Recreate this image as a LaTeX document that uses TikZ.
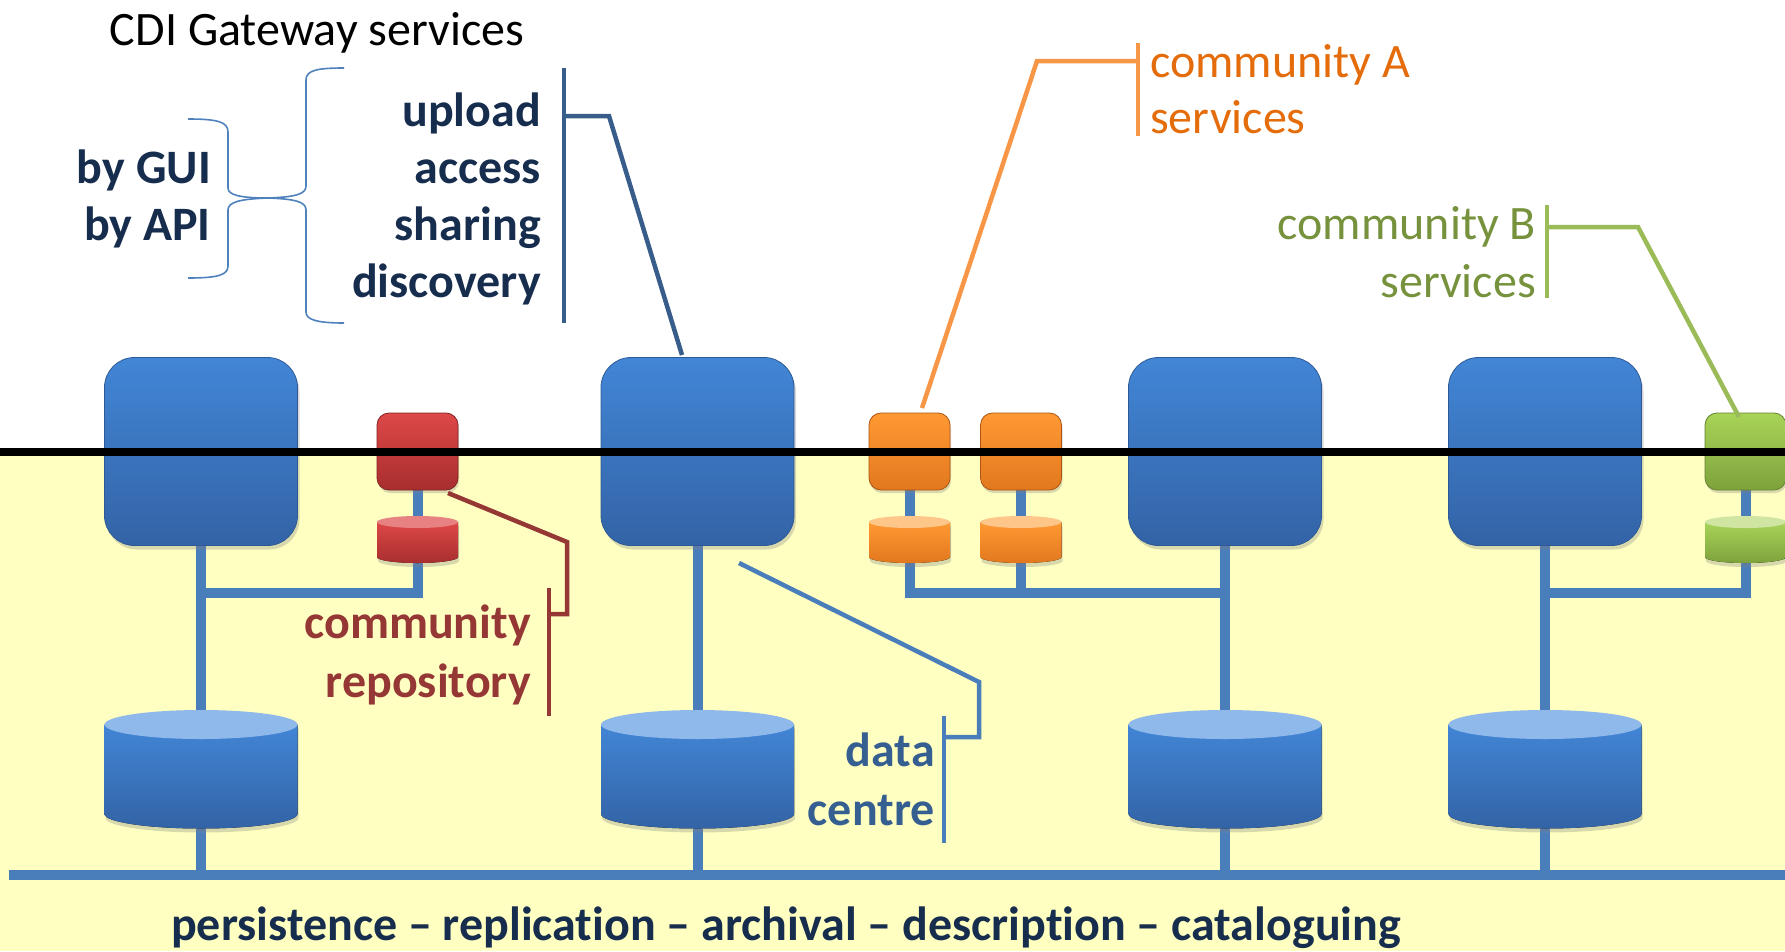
\documentclass[tikz,border=0pt]{standalone}
\usepackage{fontspec}
\setmainfont{Carlito}[Ligatures={NoCommon,NoContextual,NoRare}]
\usetikzlibrary{shadows,backgrounds}

\definecolor{bgyellow}{RGB}{255,255,193}
\definecolor{conn}{RGB}{74,126,187}
\definecolor{navy}{RGB}{23,45,78}
\definecolor{svcline}{RGB}{56,93,138}
\definecolor{dctext}{RGB}{54,95,145}
\definecolor{redtext}{RGB}{149,55,53}
\definecolor{orline}{RGB}{247,150,70}
\definecolor{ortext}{RGB}{228,108,10}
\definecolor{grline}{RGB}{155,187,89}
\definecolor{grtext}{RGB}{118,146,60}
\definecolor{bracecol}{RGB}{79,129,189}
\definecolor{bluetop}{RGB}{66,134,214}
\definecolor{bluebot}{RGB}{51,99,166}
\definecolor{blueface}{RGB}{143,185,234}
\definecolor{blueedge}{RGB}{45,90,150}
\definecolor{redtop}{RGB}{222,72,72}
\definecolor{redbot}{RGB}{168,46,46}
\definecolor{redface}{RGB}{232,130,130}
\definecolor{rededge}{RGB}{130,35,35}
\definecolor{ortop}{RGB}{255,153,51}
\definecolor{orbot}{RGB}{226,120,30}
\definecolor{orface}{RGB}{255,198,138}
\definecolor{oredge}{RGB}{170,85,20}
\definecolor{grtop}{RGB}{168,212,88}
\definecolor{grbot}{RGB}{126,162,60}
\definecolor{grface}{RGB}{207,229,161}
\definecolor{gredge}{RGB}{100,130,45}

% #1 name, #2 cx, #3 y of top face centre, #4 y of bottom ellipse centre, #5 rx, #6 ry, #7 colour prefix
\newcommand{\dbcyl}[7]{%
  \fill[top color=#7top, bottom color=#7bot,
        drop shadow={shadow xshift=1pt,shadow yshift=-4pt,opacity=0.3}]
    (#2-#5,#3) -- (#2-#5,#4) arc[start angle=180,end angle=360,x radius=#5pt,y radius=#6pt]
    -- (#2+#5,#3) -- cycle;
  \fill[#7face] (#2,#3) ellipse[x radius=#5pt,y radius=#6pt];
  \node[inner sep=0pt, minimum width=2*#5pt, minimum height={(#4-#3+2*#6)*1pt}] (#1) at (#2,{(#3+#4)/2}) {};
}

\tikzset{
  srv/.style={rectangle, rounded corners=30pt, minimum width=193pt, minimum height=188pt,
    inner sep=0pt, top color=bluetop, bottom color=bluebot, draw=blueedge, line width=0.8pt,
    drop shadow={shadow xshift=2pt,shadow yshift=-4pt,opacity=0.3}},
  svcbox/.style={rectangle, rounded corners=12pt, minimum width=81pt, minimum height=77pt,
    inner sep=0pt, line width=0.8pt,
    drop shadow={shadow xshift=1pt,shadow yshift=-3pt,opacity=0.3}},
  connline/.style={conn, line width=10pt},
  callout/.style={line width=4.5pt},
  lbl/.style={inner sep=0pt, font=\fontsize{48}{57}\selectfont\bfseries},
  lblr/.style={inner sep=0pt, font=\fontsize{48}{57}\selectfont},
  bracepath/.style={bracecol, line width=1.6pt},
}

\begin{document}
\begin{tikzpicture}[x=1pt,y=-1pt]
\useasboundingbox (0,0) rectangle (1785,951);

% servers
\node[srv] (s1) at (201,451.5) {};
\node[srv] (s2) at (697.5,451.5) {};
\node[srv] (s3) at (1225,451.5) {};
\node[srv] (s4) at (1545,451.5) {};

% community service boxes
\node[svcbox, top color=redtop, bottom color=redbot, draw=rededge] (r1) at (417.5,451.5) {};
\node[svcbox, top color=ortop, bottom color=orbot, draw=oredge] (a1) at (909.5,451.5) {};
\node[svcbox, top color=ortop, bottom color=orbot, draw=oredge] (a2) at (1021,451.5) {};
\node[svcbox, top color=grtop, bottom color=grbot, draw=gredge] (b1) at (1745.5,451.5) {};

% storage cylinders
\dbcyl{d1}{201}{724.5}{814}{96.5}{14.5}{blue}
\dbcyl{d2}{697.5}{724.5}{814}{96.5}{14.5}{blue}
\dbcyl{d3}{1225}{724.5}{814}{96.5}{14.5}{blue}
\dbcyl{d4}{1545}{724.5}{814}{96.5}{14.5}{blue}
\dbcyl{rc}{417.5}{522}{557}{40.5}{6}{red}
\dbcyl{ac1}{909.5}{522}{557}{40.5}{6}{or}
\dbcyl{ac2}{1021}{522}{557}{40.5}{6}{or}
\dbcyl{bc}{1745.5}{522}{557}{40.5}{6}{gr}

\coordinate (busL) at (9,875);
\coordinate (busR) at (1785,875);
\coordinate (br) at (0,593);

\begin{scope}[on background layer]
  \fill[bgyellow] (0,452) rectangle (1785,951);
  \draw[connline] (busL) -- (busR);
  \foreach \n in {1,2,3,4} {
    \draw[connline] (s\n.south) -- (d\n.north);
    \draw[connline] (d\n.south) -- (d\n.south |- busL);
  }
  \draw[connline] (r1.south) -- (rc.north);
  \draw[connline] (rc.south) |- (s1.south |- br);
  \draw[connline] (a1.south) -- (ac1.north);
  \draw[connline] (a2.south) -- (ac2.north);
  \draw[connline] (ac1.south) |- (s3.south |- br);
  \draw[connline] (ac2.south) -- (ac2.south |- br);
  \draw[connline] (b1.south) -- (bc.north);
  \draw[connline] (bc.south) |- (s4.south |- br);
\end{scope}

% horizon line
\coordinate (hl) at (0,452);
\coordinate (hr) at (1785,452);
\draw[black, line width=8.5pt] (hl) -- (hr);

% title
\node[inner sep=0pt, font=\fontsize{48}{57}\selectfont, anchor=base] (title) at (317,45) {CDI Gateway services};

% gateway services
\node[lbl, navy, anchor=base east] (upl) at (541,126) {upload};
\node[lbl, navy, anchor=base east] (acc) at (541,183) {access};
\node[lbl, navy, anchor=base east] (shr) at (541,240) {sharing};
\node[lbl, navy, anchor=base east] (dis) at (541,297) {discovery};
\node[lbl, navy, anchor=base east] (gui) at (211,183) {by GUI};
\node[lbl, navy, anchor=base east] (api) at (211,240) {by API};

% braces
\draw[bracepath] (188,119) .. controls (218,119) and (228,122) .. (228,132) -- (228,188)
  .. controls (228,195) and (240,198) .. (268,198);
\draw[bracepath] (268,198) .. controls (240,199) and (228,202) .. (228,210) -- (228,266)
  .. controls (228,275) and (218,278) .. (188,278);
\draw[bracepath] (344,68) .. controls (318,68) and (306,70) .. (306,80) -- (306,186)
  .. controls (306,194) and (296,197) .. (268,198);
\draw[bracepath] (268,198) .. controls (296,199) and (306,202) .. (306,210) -- (306,312)
  .. controls (306,320) and (318,323) .. (344,323);

% gateway services callout
\coordinate (gbT) at (564,68);
\coordinate (gbB) at (564,323);
\coordinate (gbH) at (564,116);
\coordinate (gc) at (682,355);
\draw[svcline, callout] (gbT) -- (gbB);
\draw[svcline, callout] (gbH) -- (609,116) -- (gc);

% community A
\node[lblr, ortext, anchor=base west] (caA) at (1150,77) {community A};
\node[lblr, ortext, anchor=base west] (caS) at (1150,133) {services};
\coordinate (abT) at (1138,43);
\coordinate (abB) at (1138,136);
\coordinate (abH) at (1138,61);
\coordinate (ac) at (922,408);
\draw[orline, callout] (abT) -- (abB);
\draw[orline, callout] (abH) -- (1037,61) -- (ac);

% community B
\node[lblr, grtext, anchor=base east] (cbB) at (1536,239) {community B};
\node[lblr, grtext, anchor=base east] (cbS) at (1536,297) {services};
\coordinate (bbT) at (1547,205);
\coordinate (bbB) at (1547,298);
\coordinate (bbH) at (1547,227);
\coordinate (bcc) at (1739,417);
\draw[grline, callout] (bbT) -- (bbB);
\draw[grline, callout] (bbH) -- (1638,227) -- (bcc);

% community repository
\node[lbl, redtext, anchor=base east] (crC) at (531,638) {community};
\node[lbl, redtext, anchor=base east] (crR) at (531,697) {repository};
\coordinate (rbT) at (549,588);
\coordinate (rbB) at (549,716);
\coordinate (rbH) at (549,614);
\coordinate (rcc) at (448,493);
\draw[redtext, callout] (rbT) -- (rbB);
\draw[redtext, callout] (rbH) -- (567,614) -- (567,542) -- (rcc);

% data centre
\node[lbl, dctext, anchor=base east] (dcD) at (935,766) {data};
\node[lbl, dctext, anchor=base east] (dcC) at (935,825) {centre};
\coordinate (dbT) at (944,716);
\coordinate (dbB) at (944,843);
\coordinate (dbH) at (944,737);
\coordinate (dcc) at (739,563);
\draw[conn, callout] (dbT) -- (dbB);
\draw[conn, callout] (dbH) -- (979,737) -- (979,682) -- (dcc);

% bottom caption
\node[lbl, navy, anchor=base] (cap) at (786,940) {persistence – replication – archival – description – cataloguing};
\end{tikzpicture}
\end{document}
